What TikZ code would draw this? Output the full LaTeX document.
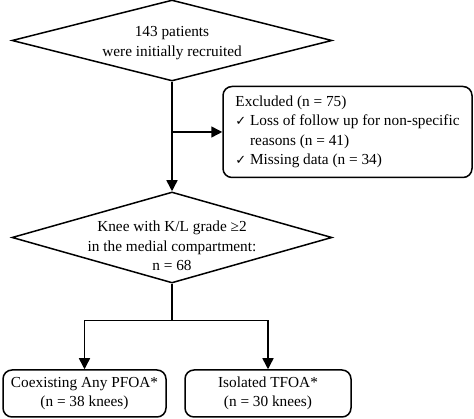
\documentclass[tikz,border=0pt]{standalone}
\usepackage{fontspec}
\setmainfont{Liberation Serif}
\newfontfamily\checkfont{DejaVu Sans}
\usetikzlibrary{shapes.geometric,arrows.meta}
\newcommand{\okmark}{{\checkfont\fontsize{13}{13}\selectfont ✓}\ }
\tikzset{
  decision/.style={diamond,draw,line width=1.5pt,minimum width=320pt,minimum height=81pt,inner sep=0pt},
  box/.style={rectangle,draw,rounded corners=9pt,line width=1.5pt},
  flow/.style={line width=1.5pt,-{Triangle[width=11pt,length=11pt]}}
}

\begin{document}
\begin{tikzpicture}[x=1pt,y=1pt,font=\fontsize{15.3}{19.5}\selectfont]
        \useasboundingbox (0,0) rectangle (474,419);
        % the two diamonds and their texts
        \node[decision] (recruit) at (172,378.5) {};
        \node[align=center] (recruittext) at (172,376) {143 patients\\were initially recruited};
        \node[decision,minimum height=91pt] (knee) at (172,181.5) {};
        \node[align=center] (kneetext) at (172,173) {Knee with K/L grade ≥2\\in the medial compartment:\\n = 68};
        % the excluded patients
        \node[box,minimum width=249pt,minimum height=91pt,align=left] (excl) at (347.5,287) {Excluded (n = 75)\\
                \okmark Loss of follow up for non-specific\\
                \phantom{\okmark}reasons (n = 41)\\
                \okmark Missing data (n = 34)};
        % the two groups of knees
        \node[box,minimum width=163pt,minimum height=47pt,align=center] (pfoa) at (84.5,25.5) {Coexisting Any PFOA*\\(n = 38 knees)};
        \node[box,minimum width=166pt,minimum height=47pt,align=center] (tfoa) at (268,25.5) {Isolated TFOA*\\(n = 30 knees)};
        % the connectors
        \coordinate (branch) at (172,287);
        \coordinate (split) at (172,98.5);
        \draw[flow] (recruit.south) -- (knee.north);
        \draw[flow] (branch) -- (excl.west);
        \draw[line width=1.5pt] (knee.south) -- (split);
        \draw[flow] (split) -| (pfoa);
        \draw[flow] (split) -| (tfoa);
\end{tikzpicture}
\end{document}
